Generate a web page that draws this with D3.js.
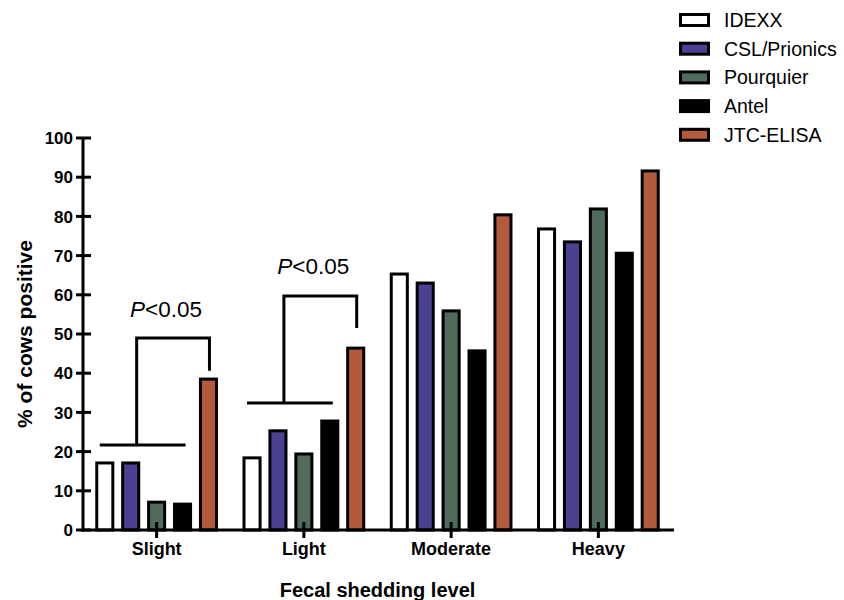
<!DOCTYPE html>
<html>
  <head>
    <meta charset="utf-8">
    <title>ELISA sensitivity by fecal shedding level</title>
    <script src="https://d3js.org/d3.v7.min.js"></script>
    <style>
      body { margin: 0; background: #fff; }
      svg { display: block; font-family: "Liberation Sans", Arial, sans-serif; }
    </style>
  </head>
  <body>
    <div id="chart"></div>
    <script>
      // data
      const categories = ["Slight", "Light", "Moderate", "Heavy"];
      const series = ["IDEXX", "CSL/Prionics", "Pourquier", "Antel", "JTC-ELISA"];
      const idexx = [17.1, 18.4, 65.3, 76.8];
      const cslPrionics = [17.1, 25.3, 63.0, 73.5];
      const pourquier = [7.1, 19.4, 55.9, 81.9];
      const antel = [6.6, 27.8, 45.7, 70.6];
      const jtcElisa = [38.5, 46.4, 80.4, 91.6];
      const yTicks = [0, 10, 20, 30, 40, 50, 60, 70, 80, 90, 100];
      // significance brackets: group, lower bar, top level, drop end, label level
      const brackets = [
        { group: "Slight", low: 21.7, high: 49.0, end: 40.6, label: 54.3 },
        { group: "Light", low: 32.4, high: 59.7, end: 51.5, label: 65.3 }
      ];

      const values = [idexx, cslPrionics, pourquier, antel, jtcElisa];
      const colors = ["#ffffff", "#4a4192", "#4e6b5b", "#000000", "#b45a3c"];

      const width = 844, height = 600;
      const svg = d3.select("#chart")
        .append("svg")
          .attr("width", width)
          .attr("height", height);

      const x = d3.scaleBand()
        .domain(categories)
        .range([83, 672])
        .paddingInner(0.12)
        .paddingOuter(0.06);
      const xs = d3.scaleBand()
        .domain(series)
        .range([0, x.bandwidth()])
        .paddingInner(0.38)
        .paddingOuter(0.19);
      const y = d3.scaleLinear()
        .domain([0, 100])
        .range([530, 138]);

      // bars
      const groups = svg.selectAll(".group")
          .data(categories)
        .enter().append("g")
          .attr("class", "group")
          .attr("transform", function(d) { return "translate(" + x(d) + ",0)"; });
      groups.selectAll("rect")
          .data(function(d, i) { return series.map(function(s, j) { return { s: s, v: values[j][i], c: colors[j] }; }); })
        .enter().append("rect")
          .attr("x", function(d) { return xs(d.s); })
          .attr("width", xs.bandwidth())
          .attr("y", function(d) { return y(d.v); })
          .attr("height", function(d) { return y(0) - y(d.v); })
          .attr("fill", function(d) { return d.c; })
          .attr("stroke", "#000")
          .attr("stroke-width", 3);

      // y axis
      const yAxis = svg.append("g");
      yAxis.append("line")
        .attr("x1", x.range()[0]).attr("x2", x.range()[0])
        .attr("y1", y(0) + 1.5).attr("y2", y(100))
        .attr("stroke", "#000").attr("stroke-width", 3);
      yAxis.selectAll(".tick")
          .data(yTicks)
        .enter().append("line")
          .attr("x1", x.range()[0] - 7).attr("x2", x.range()[0] + 8)
          .attr("y1", function(d) { return y(d); }).attr("y2", function(d) { return y(d); })
          .attr("stroke", "#000").attr("stroke-width", 3);
      yAxis.selectAll("text")
          .data(yTicks)
        .enter().append("text")
          .attr("x", 73)
          .attr("y", function(d) { return y(d); })
          .attr("dy", "0.36em")
          .attr("text-anchor", "end")
          .attr("font-size", 17)
          .attr("font-weight", "bold")
          .text(function(d) { return d; });

      // x axis
      const xAxis = svg.append("g");
      xAxis.append("line")
        .attr("x1", x.range()[0] - 1.5).attr("x2", x.range()[1] + 2)
        .attr("y1", y(0)).attr("y2", y(0))
        .attr("stroke", "#000").attr("stroke-width", 3);
      xAxis.selectAll(".tick")
          .data(categories)
        .enter().append("line")
          .attr("x1", function(d) { return x(d) + x.bandwidth() / 2; })
          .attr("x2", function(d) { return x(d) + x.bandwidth() / 2; })
          .attr("y1", y(0) - 8).attr("y2", y(0) + 8)
          .attr("stroke", "#000").attr("stroke-width", 3);
      xAxis.selectAll("text")
          .data(categories)
        .enter().append("text")
          .attr("x", function(d) { return x(d) + x.bandwidth() / 2; })
          .attr("y", 555)
          .attr("text-anchor", "middle")
          .attr("font-size", 18)
          .attr("font-weight", "bold")
          .text(function(d) { return d; });

      // axis titles
      svg.append("text")
        .attr("x", (x.range()[0] + x.range()[1]) / 2)
        .attr("y", 597)
        .attr("text-anchor", "middle")
        .attr("font-size", 20)
        .attr("font-weight", "bold")
        .text("Fecal shedding level");
      svg.append("text")
        .attr("transform", "translate(32," + y(50) + ") rotate(-90)")
        .attr("text-anchor", "middle")
        .attr("font-size", 21)
        .attr("font-weight", "bold")
        .text("% of cows positive");

      // significance brackets
      const cx = function(g, s) { return x(g) + xs(s) + xs.bandwidth() / 2; };
      brackets.forEach(function(b) {
        let left = cx(b.group, "IDEXX") - 5,
            right = cx(b.group, "Antel") + 3,
            mid = left + 0.43 * (right - left),
            drop = cx(b.group, "JTC-ELISA") + 1;
        svg.append("line")
          .attr("x1", left).attr("x2", right)
          .attr("y1", y(b.low)).attr("y2", y(b.low))
          .attr("stroke", "#000").attr("stroke-width", 3);
        svg.append("path")
          .attr("d", "M" + mid + "," + y(b.low) + "V" + y(b.high) + "H" + drop + "V" + y(b.end))
          .attr("fill", "none")
          .attr("stroke", "#000").attr("stroke-width", 3);
        let t = svg.append("text")
          .attr("x", (mid + drop) / 2 - 7)
          .attr("y", y(b.label))
          .attr("text-anchor", "middle")
          .attr("font-size", 22.5);
        t.append("tspan").attr("font-style", "italic").text("P");
        t.append("tspan").text("<0.05");
      });

      // legend
      const legend = svg.append("g")
        .attr("transform", "translate(680,20)");
      const rows = legend.selectAll("g")
          .data(series)
        .enter().append("g")
          .attr("transform", function(d, i) { return "translate(0," + i * 28.7 + ")"; });
      rows.append("rect")
        .attr("x", 0.5).attr("y", -5.5)
        .attr("width", 28).attr("height", 11)
        .attr("fill", function(d, i) { return colors[i]; })
        .attr("stroke", "#000").attr("stroke-width", 3);
      rows.append("text")
        .attr("x", 44)
        .attr("y", 0)
        .attr("dy", "0.36em")
        .attr("font-size", 19.5)
        .text(function(d) { return d; });
    </script>
  </body>
</html>
